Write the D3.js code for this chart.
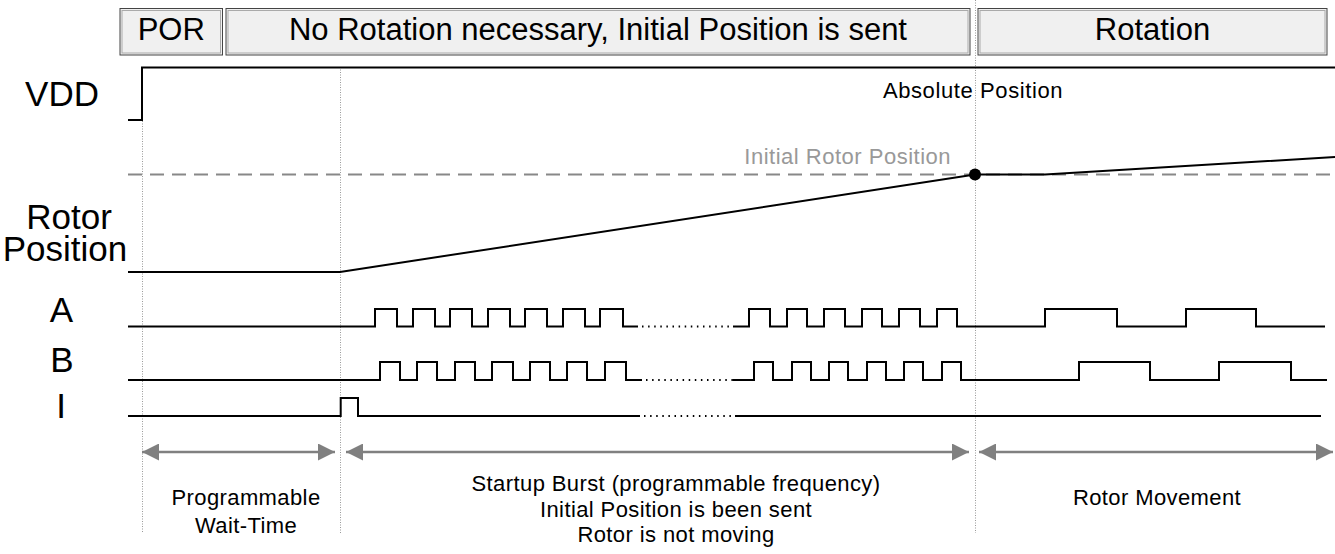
<!DOCTYPE html>
<html>
<head>
<meta charset="utf-8">
<script src="https://cdn.jsdelivr.net/npm/d3@7"></script>
<style>
  body { margin: 0; background: #fff; }
  svg { display: block; font-family: "Liberation Sans", Arial, sans-serif; }
</style>
</head>
<body>
<div class="svg-container"></div>
<script>
// time runs in arbitrary units, 0 = left end of the traces
const phaseNames = ['POR', 'No Rotation necessary, Initial Position is sent', 'Rotation'];
const phaseStart = [-8, 98, 850];
const phaseEnd = [94.5, 842, 1199];

// POR done, wait-time done, initial position reached
const markers = [14, 212, 847];

const vddPoints = [[0, 0], [14, 0], [14, 1], [1207, 1]];
const rotorPoints = [[0, 0], [212, 0], [847, 1], [917, 1], [1207, 1.18]];
const initialPosition = 1;

// edge times of the encoder outputs (each edge toggles the level, start low)
const aEdges1 = [247, 269, 285, 307, 322, 344, 360, 382, 397, 419, 435, 457, 472, 495];
const aGap = [510, 605];
const aEdges2 = [621, 642, 659, 679, 696, 717, 734, 754, 771, 792, 809, 829, 917, 989, 1058, 1128];
const aEnd = 1197;

const bEdges1 = [252, 272, 289, 309, 327, 347, 364, 385, 402, 422, 439, 459, 477, 498];
const bGap = [514, 605];
const bEdges2 = [626, 645, 664, 683, 701, 720, 739, 758, 776, 795, 814, 833, 951, 1022, 1091, 1163];
const bEnd = 1199;

const iEdges1 = [212.7, 230];
const iGap = [512, 607];
const iEdges2 = [];
const iEnd = 1193;

const arrowFrom = [14, 218, 851];
const arrowTo = [207, 841, 1205];
const captions = [
  ['Programmable', 'Wait-Time'],
  ['Startup Burst (programmable frequency)', 'Initial Position is been sent', 'Rotor is not moving'],
  ['Rotor Movement']
];
const captionAt = [118, 548, 1029];

// set up dimensions
const width = 1335;
const height = 554;

const x = d3.scaleLinear().domain([0, 1200]).range([128, 1328]);
const yVdd = d3.scaleLinear().domain([0, 1]).range([120, 67.5]);
const yRotor = d3.scaleLinear().domain([0, 1]).range([272, 174.5]);

const svg = d3.select('.svg-container')
  .append('svg')
  .attr('width', width)
  .attr('height', height);

// header boxes
const header = svg.append('g').selectAll('g')
  .data(phaseNames)
  .enter()
  .append('g');

header.append('rect')
  .attr('x', (d, i) => x(phaseStart[i]))
  .attr('y', 8.5)
  .attr('width', (d, i) => x(phaseEnd[i]) - x(phaseStart[i]))
  .attr('height', 46.5)
  .attr('fill', '#f0f0f0')
  .attr('stroke', '#444')
  .attr('stroke-width', 1);

header.append('rect')
  .attr('x', (d, i) => x(phaseStart[i]) + 2)
  .attr('y', 10.5)
  .attr('width', (d, i) => x(phaseEnd[i]) - x(phaseStart[i]) - 4)
  .attr('height', 42.5)
  .attr('fill', 'none')
  .attr('stroke', '#aaa')
  .attr('stroke-width', 1);

header.append('text')
  .attr('x', (d, i) => (x(phaseStart[i]) + x(phaseEnd[i])) / 2)
  .attr('y', 40)
  .attr('text-anchor', 'middle')
  .attr('font-size', 31)
  .attr('fill', '#000')
  .text(d => d);

// dotted phase markers
const markerTop = [121, 67, 0];
svg.append('g').selectAll('line')
  .data(markers)
  .enter()
  .append('line')
  .attr('x1', d => x(d) + 0.5)
  .attr('x2', d => x(d) + 0.5)
  .attr('y1', (d, i) => markerTop[i])
  .attr('y2', 533)
  .attr('stroke', '#999')
  .attr('stroke-width', 1)
  .attr('stroke-dasharray', '1,1.5');

// signal labels (multi-line ones go into tspans)
const labels = [
  { lines: ['VDD'], cx: [62], base: 106 },
  { lines: ['Rotor', 'Position'], cx: [69, 65], base: 229 },
  { lines: ['A'], cx: [61.5], base: 322 },
  { lines: ['B'], cx: [62], base: 372 },
  { lines: ['I'], cx: [61], base: 418 }
];
const labelText = svg.append('g').selectAll('text')
  .data(labels)
  .enter()
  .append('text')
  .attr('text-anchor', 'middle')
  .attr('font-size', 35);

labelText.selectAll('tspan')
  .data(d => d.lines.map((t, j) => ({ t, x: d.cx[j], y: d.base + j * 32 })))
  .enter()
  .append('tspan')
  .attr('x', d => d.x)
  .attr('y', d => d.y)
  .text(d => d.t);

const line = d3.line()
  .x(d => x(d[0]))
  .y(d => d[1]);

// VDD
svg.append('path')
  .attr('d', line(vddPoints.map(d => [d[0], yVdd(d[1])])))
  .attr('fill', 'none')
  .attr('stroke', '#000')
  .attr('stroke-width', 2);

svg.append('text')
  .attr('x', x(markers[2]) - 2)
  .attr('y', 98)
  .attr('text-anchor', 'middle')
  .attr('font-size', 22)
  .attr('letter-spacing', 0.6)
  .text('Absolute Position');

// rotor position
svg.append('line')
  .attr('x1', x(0))
  .attr('x2', width)
  .attr('y1', yRotor(initialPosition))
  .attr('y2', yRotor(initialPosition))
  .attr('stroke', '#888')
  .attr('stroke-width', 2)
  .attr('stroke-dasharray', '14,8');

svg.append('text')
  .attr('x', x(markers[2]) - 24)
  .attr('y', 164)
  .attr('text-anchor', 'end')
  .attr('font-size', 22)
  .attr('letter-spacing', 0.5)
  .attr('fill', '#999')
  .text('Initial Rotor Position');

svg.append('path')
  .attr('d', line(rotorPoints.map(d => [d[0], yRotor(d[1])])))
  .attr('fill', 'none')
  .attr('stroke', '#000')
  .attr('stroke-width', 2);

svg.append('circle')
  .attr('cx', x(markers[2]))
  .attr('cy', yRotor(initialPosition))
  .attr('r', 6)
  .attr('fill', '#000');

// encoder outputs
const stepLine = d3.line()
  .x(d => x(d[0]))
  .y(d => d[1])
  .curve(d3.curveStepAfter);

function levels(start, edges, end, level, low, high) {
  const pts = [[start, level ? high : low]];
  edges.forEach(e => {
    level = 1 - level;
    pts.push([e, level ? high : low]);
  });
  pts.push([end, level ? high : low]);
  return pts;
}

const signals = [
  { e1: aEdges1, gap: aGap, e2: aEdges2, end: aEnd, low: 326.5, high: 309 },
  { e1: bEdges1, gap: bGap, e2: bEdges2, end: bEnd, low: 380, high: 362 },
  { e1: iEdges1, gap: iGap, e2: iEdges2, end: iEnd, low: 416, high: 398 }
];

signals.forEach(s => {
  const g = svg.append('g');
  g.append('path')
    .attr('d', stepLine(levels(0, s.e1, s.gap[0], 0, s.low, s.high)))
    .attr('fill', 'none')
    .attr('stroke', '#000')
    .attr('stroke-width', 2);
  g.append('line')
    .attr('x1', x(s.gap[0]) + 4)
    .attr('x2', x(s.gap[1]))
    .attr('y1', s.low)
    .attr('y2', s.low)
    .attr('stroke', '#000')
    .attr('stroke-width', 2)
    .attr('stroke-dasharray', '1.5,4.6');
  g.append('path')
    .attr('d', stepLine(levels(s.gap[1], s.e2, s.end, 0, s.low, s.high)))
    .attr('fill', 'none')
    .attr('stroke', '#000')
    .attr('stroke-width', 2);
});

// duration arrows
const defs = svg.append('defs');
defs.append('marker')
  .attr('id', 'head')
  .attr('viewBox', '0 0 17 17')
  .attr('refX', 17)
  .attr('refY', 8.5)
  .attr('markerUnits', 'userSpaceOnUse')
  .attr('markerWidth', 17)
  .attr('markerHeight', 17)
  .attr('orient', 'auto-start-reverse')
  .append('path')
  .attr('d', 'M0,0L17,8.5L0,17Z')
  .attr('fill', '#808080');

svg.append('g').selectAll('line')
  .data(arrowFrom)
  .enter()
  .append('line')
  .attr('x1', d => x(d))
  .attr('x2', (d, i) => x(arrowTo[i]))
  .attr('y1', 452)
  .attr('y2', 452)
  .attr('stroke', '#808080')
  .attr('stroke-width', 2.5)
  .attr('marker-start', 'url(#head)')
  .attr('marker-end', 'url(#head)');

const captionBase = [505, 491, 505];
const captionStep = [27.5, 25.5, 0];
const captionGroup = svg.append('g').selectAll('text')
  .data(captions)
  .enter()
  .append('text')
  .attr('text-anchor', 'middle')
  .attr('font-size', 22)
  .attr('letter-spacing', 0.4)
  .attr('fill', '#000');

captionGroup.selectAll('tspan')
  .data((d, i) => d.map((t, j) => ({ t, i, j })))
  .enter()
  .append('tspan')
  .attr('x', d => x(captionAt[d.i]))
  .attr('y', d => captionBase[d.i] + d.j * captionStep[d.i])
  .text(d => d.t);
</script>
</body>
</html>
